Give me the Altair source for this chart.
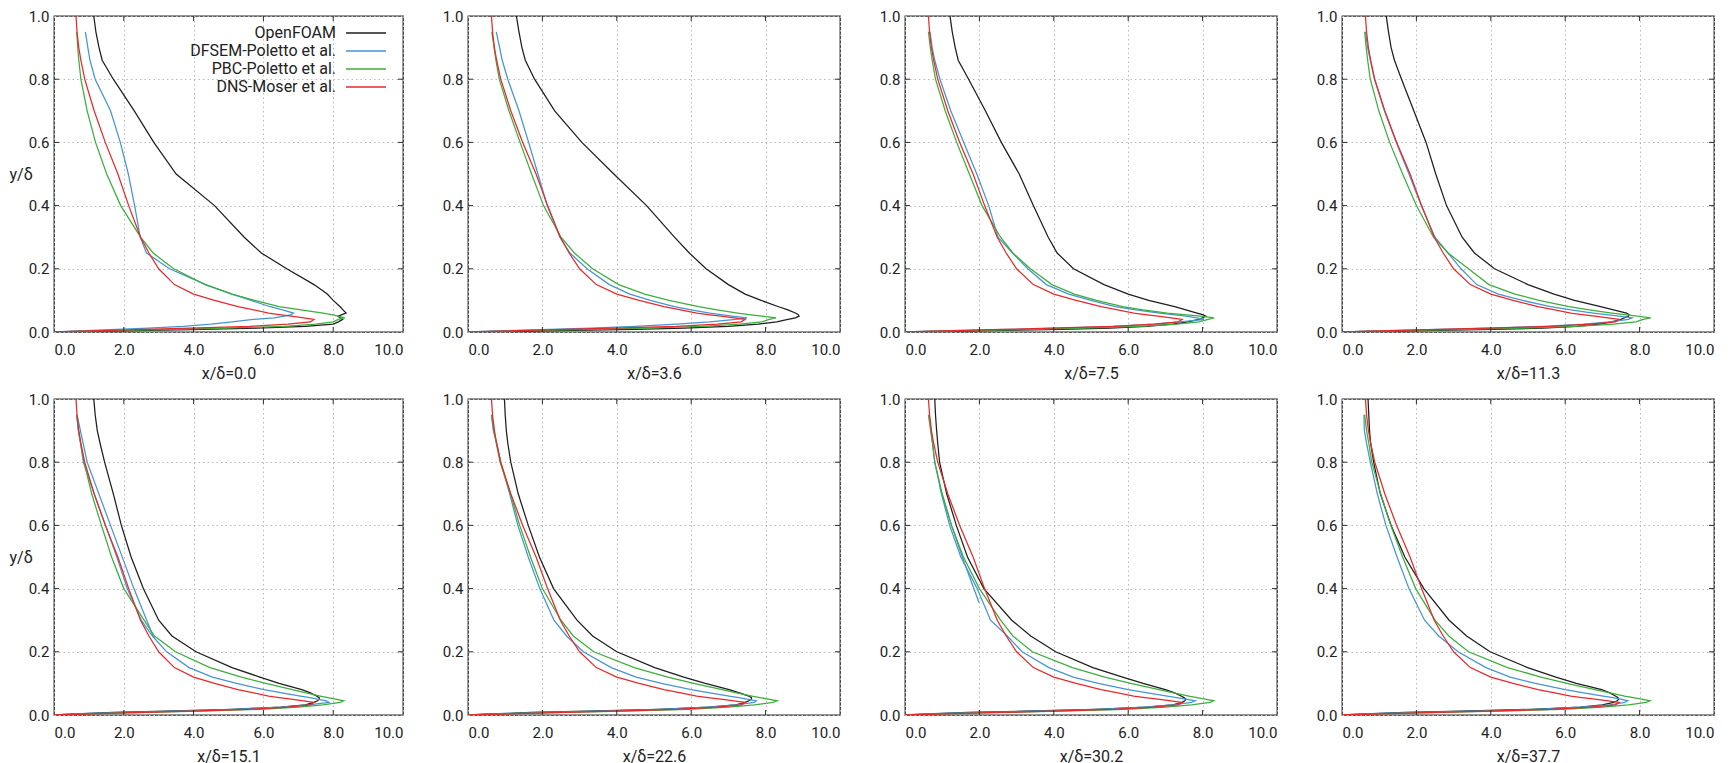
import altair as alt
import pandas as pd

# ---------------- data ----------------
STATIONS = ["0.0", "3.6", "7.5", "11.3", "15.1", "22.6", "30.2", "37.7"]
SERIES = ["OpenFOAM", "DFSEM-Poletto et al.", "PBC-Poletto et al.", "DNS-Moser et al."]
COLORS = ["#1e1e1e", "#4794d3", "#3cae3c", "#e8292b"]

X_TICKS = [0, 2, 4, 6, 8, 10]
Y_TICKS = [0.0, 0.2, 0.4, 0.6, 0.8, 1.0]

# wall-normal positions y/delta (OpenFOAM and DNS go to 1.0, Poletto data stop at 0.95)
Y_GRID = [0.0, 0.004, 0.008, 0.012, 0.018, 0.025, 0.032, 0.04, 0.045, 0.05, 0.055,
          0.06, 0.07, 0.08, 0.1, 0.12, 0.15, 0.2, 0.25, 0.3, 0.4, 0.5, 0.6, 0.7,
          0.8, 0.86, 0.9, 0.95, 1.0]
Y_POL = Y_GRID[:-1]

OPENFOAM = {
    "0.0": [0, 2.3, 4.3, 5.8, 7.2, 8.0, 8.15, 8.27, 8.2, 8.14, 8.25, 8.37, 8.28, 8.2, 8.0, 7.83, 7.45, 6.67, 5.94, 5.45, 4.6, 3.5, 2.86, 2.3, 1.7, 1.38, 1.29, 1.2, 1.14],
    "3.6": [0, 2.4, 4.5, 5.8, 7.0, 7.8, 8.3, 8.6, 8.8, 8.9, 8.88, 8.8, 8.6, 8.35, 7.88, 7.45, 7.0, 6.4, 5.95, 5.55, 4.8, 3.92, 3.06, 2.33, 1.79, 1.54, 1.45, 1.37, 1.30],
    "7.5": [0, 2.2, 4.2, 5.5, 6.5, 7.2, 7.6, 7.9, 8.0, 8.09, 8.0, 7.85, 7.55, 7.25, 6.55, 6.0, 5.35, 4.53, 4.09, 3.85, 3.45, 3.07, 2.59, 2.16, 1.71, 1.43, 1.35, 1.27, 1.21],
    "11.3": [0, 2.1, 4.1, 5.4, 6.3, 6.9, 7.25, 7.5, 7.6, 7.7, 7.72, 7.65, 7.3, 6.95, 6.25, 5.7, 5.0, 4.1, 3.56, 3.23, 2.81, 2.52, 2.26, 1.93, 1.6, 1.41, 1.32, 1.25, 1.19],
    "15.1": [0, 0.8, 1.7, 3.2, 5.1, 6.5, 7.2, 7.45, 7.55, 7.6, 7.6, 7.52, 7.35, 7.1, 6.45, 5.9, 5.1, 4.07, 3.38, 3.0, 2.56, 2.21, 1.93, 1.7, 1.45, 1.32, 1.24, 1.18, 1.14],
    "22.6": [0, 0.8, 1.7, 3.2, 5.1, 6.5, 7.2, 7.45, 7.55, 7.62, 7.62, 7.55, 7.3, 7.02, 6.38, 5.8, 5.02, 4.0, 3.35, 2.93, 2.3, 1.92, 1.62, 1.35, 1.15, 1.07, 1.03, 1.0, 0.98],
    "30.2": [0, 0.8, 1.7, 3.2, 5.1, 6.5, 7.2, 7.45, 7.52, 7.55, 7.5, 7.42, 7.25, 7.0, 6.4, 5.85, 5.05, 4.05, 3.38, 2.87, 2.12, 1.68, 1.38, 1.12, 0.93, 0.88, 0.85, 0.82, 0.80],
    "37.7": [0, 0.8, 1.7, 3.2, 5.1, 6.4, 7.0, 7.3, 7.4, 7.44, 7.42, 7.35, 7.2, 6.98, 6.3, 5.75, 4.99, 3.98, 3.35, 2.88, 2.2, 1.69, 1.32, 1.03, 0.85, 0.77, 0.74, 0.72, 0.70],
}

DFSEM = {
    "0.0": [0, 0.9, 1.8, 2.7, 3.7, 4.5, 5.1, 5.71, 6.3, 6.6, 6.8, 6.86, 6.55, 6.2, 5.65, 5.1, 4.35, 3.31, 2.65, 2.47, 2.31, 2.13, 1.9, 1.62, 1.18, 1.03, 0.97, 0.9],
    "3.6": [0, 1.0, 2.2, 3.3, 4.5, 5.6, 6.5, 7.2, 7.5, 7.1, 6.8, 6.5, 6.0, 5.55, 4.9, 4.35, 3.8, 3.2, 2.74, 2.47, 2.13, 1.88, 1.63, 1.37, 1.07, 0.92, 0.85, 0.76],
    "7.5": [0, 1.3, 2.8, 4.2, 5.6, 6.7, 7.4, 8.04, 7.85, 7.55, 7.2, 6.85, 6.2, 5.65, 5.0, 4.4, 3.8, 3.3, 2.89, 2.5, 2.25, 1.93, 1.58, 1.23, 0.94, 0.8, 0.73, 0.67],
    "11.3": [0, 1.2, 2.6, 4.0, 5.4, 6.5, 7.2, 7.7, 7.8, 7.45, 7.1, 6.75, 6.15, 5.6, 4.85, 4.2, 3.62, 3.2, 2.85, 2.5, 2.13, 1.8, 1.46, 1.14, 0.87, 0.76, 0.69, 0.63],
    "15.1": [0, 0.9, 2.0, 3.5, 5.2, 6.5, 7.3, 7.88, 7.8, 7.55, 7.33, 7.06, 6.53, 6.02, 5.23, 4.54, 3.87, 3.23, 2.82, 2.5, 2.1, 1.8, 1.48, 1.15, 0.84, 0.76, 0.7, 0.65],
    "22.6": [0, 0.9, 2.0, 3.5, 5.2, 6.4, 7.2, 7.7, 7.75, 7.5, 7.28, 7.02, 6.5, 6.0, 5.2, 4.52, 3.85, 3.1, 2.65, 2.31, 1.93, 1.62, 1.34, 1.12, 0.88, 0.77, 0.68, 0.63],
    "30.2": [0, 0.9, 2.0, 3.5, 5.2, 6.4, 7.2, 7.7, 7.8, 7.55, 7.3, 7.05, 6.52, 6.0, 5.2, 4.52, 3.87, 3.15, 2.75, 2.3, 1.94, 1.5, 1.2, 0.98, 0.8, 0.74, 0.7, 0.65],
    "37.7": [0, 0.9, 2.0, 3.5, 5.2, 6.4, 7.2, 7.6, 7.68, 7.5, 7.28, 7.02, 6.5, 6.0, 5.2, 4.52, 3.87, 3.12, 2.6, 2.22, 1.8, 1.48, 1.18, 0.95, 0.76, 0.66, 0.6, 0.59],
}
# short extra DFSEM strokes visible at x/delta = 15.1 and 30.2
DFSEM_EXTRA_X = {"15.1": [0.67, 0.95, 1.62, 2.29, 2.86], "30.2": [0.94, 1.25, 1.6, 1.99]}
DFSEM_EXTRA_Y = {"15.1": [0.945, 0.8, 0.6, 0.4, 0.244], "30.2": [0.72, 0.6, 0.48, 0.356]}

PBC = {
    "0.0": [0, 1.7, 3.4, 4.9, 6.6, 7.5, 8.0, 8.15, 8.33, 8.15, 7.95, 7.71, 7.08, 6.45, 5.75, 5.1, 4.33, 3.43, 2.84, 2.48, 1.91, 1.51, 1.19, 0.95, 0.77, 0.71, 0.68, 0.65],
    "3.6": [0, 1.6, 3.3, 4.8, 6.3, 7.3, 7.9, 8.1, 8.28, 7.9, 7.55, 7.25, 6.7, 6.2, 5.4, 4.75, 4.05, 3.35, 2.86, 2.5, 2.03, 1.71, 1.4, 1.1, 0.84, 0.75, 0.7, 0.64],
    "7.5": [0, 1.6, 3.3, 4.8, 6.3, 7.3, 7.9, 8.15, 8.31, 7.95, 7.5, 7.05, 6.4, 5.85, 5.15, 4.55, 3.95, 3.37, 2.9, 2.57, 2.07, 1.73, 1.39, 1.08, 0.82, 0.73, 0.68, 0.63],
    "11.3": [0, 1.6, 3.3, 4.8, 6.3, 7.3, 7.9, 8.1, 8.3, 7.95, 7.6, 7.25, 6.65, 6.1, 5.3, 4.65, 3.95, 3.4, 2.85, 2.46, 2.0, 1.63, 1.28, 0.99, 0.76, 0.69, 0.65, 0.61],
    "15.1": [0, 1.2, 2.6, 4.2, 5.9, 7.0, 7.7, 8.2, 8.3, 8.07, 7.85, 7.63, 7.22, 6.83, 6.07, 5.37, 4.47, 3.48, 2.88, 2.58, 2.0, 1.65, 1.36, 1.08, 0.86, 0.76, 0.7, 0.65],
    "22.6": [0, 1.2, 2.6, 4.2, 5.9, 7.0, 7.7, 8.2, 8.31, 8.07, 7.85, 7.63, 7.22, 6.83, 6.07, 5.37, 4.47, 3.38, 2.83, 2.5, 2.0, 1.68, 1.39, 1.14, 0.86, 0.76, 0.7, 0.63],
    "30.2": [0, 1.2, 2.6, 4.2, 5.9, 7.0, 7.7, 8.2, 8.3, 8.07, 7.85, 7.63, 7.22, 6.83, 6.07, 5.37, 4.5, 3.42, 2.9, 2.57, 2.0, 1.57, 1.25, 1.0, 0.8, 0.74, 0.69, 0.63],
    "37.7": [0, 1.2, 2.6, 4.2, 5.9, 7.0, 7.7, 8.18, 8.28, 8.05, 7.83, 7.6, 7.2, 6.8, 6.05, 5.35, 4.45, 3.4, 2.87, 2.5, 1.98, 1.63, 1.31, 1.04, 0.8, 0.72, 0.66, 0.61],
}

# channel-flow DNS reference, identical at every station
DNS = [0, 1.3, 2.6, 3.9, 5.6, 6.7, 7.35, 7.45, 7.15, 6.8, 6.45, 6.15, 5.72, 5.27, 4.6, 4.0, 3.45, 3.0, 2.72, 2.48, 2.14, 1.83, 1.47, 1.15, 0.88, 0.77, 0.71, 0.66, 0.63]

# ---------------- layout / style ----------------
FONT = "Roboto"
W_FIRST, W_OTHER, H = 349, 372, 316
HGAP, VGAP = 65, 67
TICK_PX = 5
LINE_W = 1.25
# key (legend) placement inside the first panel, in pixels from its top-left corner
KEY_TEXT_RIGHT = 282
KEY_LINE = (292, 332)
KEY_ROW0, KEY_ROW_STEP = 17, 18

rows = []


def add(station, series, part, xs, ys):
    for i, (xv, yv) in enumerate(zip(xs, ys)):
        rows.append(dict(station=station, series=series, part=f"{series}|{part}",
                         order=i, x=xv, y=yv))


for st in STATIONS:
    add(st, SERIES[0], "a", OPENFOAM[st], Y_GRID)
    add(st, SERIES[1], "a", DFSEM[st], Y_POL)
    if st in DFSEM_EXTRA_X:
        add(st, SERIES[1], "b", DFSEM_EXTRA_X[st], DFSEM_EXTRA_Y[st])
    add(st, SERIES[2], "a", PBC[st], Y_POL)
    add(st, SERIES[3], "a", DNS, Y_GRID)

df = pd.DataFrame(rows)


def tick_frame(w):
    dx = TICK_PX / w * (X_TICKS[-1] - X_TICKS[0])
    dy = TICK_PX / H
    recs = []
    for xv in X_TICKS[1:-1]:
        recs.append(dict(x=xv, x2=xv, y=0.0, y2=dy))
        recs.append(dict(x=xv, x2=xv, y=1.0, y2=1.0 - dy))
    for yv in Y_TICKS[1:-1]:
        recs.append(dict(x=0.0, x2=dx, y=yv, y2=yv))
        recs.append(dict(x=10.0, x2=10.0 - dx, y=yv, y2=yv))
    return pd.DataFrame(recs)


xsc = alt.Scale(domain=[0, 10], nice=False, zero=False)
ysc = alt.Scale(domain=[0, 1], nice=False, zero=False)
csc = alt.Scale(domain=SERIES, range=COLORS)


def key_layers():
    layers = []
    for i, (name, col) in enumerate(zip(SERIES, COLORS)):
        yy = KEY_ROW0 + i * KEY_ROW_STEP
        src = pd.DataFrame({"label": [name]})
        layers.append(
            alt.Chart(src).mark_text(align="right", baseline="middle", font=FONT,
                                     fontSize=16, color="#222222")
            .encode(text="label:N", x=alt.value(KEY_TEXT_RIGHT), y=alt.value(yy))
        )
        layers.append(
            alt.Chart(src).mark_rule(color=col, strokeWidth=1.3)
            .encode(x=alt.value(KEY_LINE[0]), x2=alt.value(KEY_LINE[1]), y=alt.value(yy))
        )
    return layers


def panel(k):
    st = STATIONS[k]
    first = (k % 4 == 0)
    w = W_FIRST if first else W_OTHER
    xax = alt.Axis(values=X_TICKS, format=".1f", title=f"x/δ={st}", grid=True)
    if first:
        yax = alt.Axis(values=Y_TICKS, format=".1f", grid=True, title="y/δ",
                       titleAngle=0, titleAlign="left", titleBaseline="middle",
                       titleX=-45, titleY=H / 2)
    else:
        yax = alt.Axis(values=Y_TICKS, format=".1f", grid=True, title=None)
    lines = alt.Chart(df[df.station == st]).mark_line(strokeWidth=LINE_W, clip=True).encode(
        x=alt.X("x:Q", scale=xsc, axis=xax),
        y=alt.Y("y:Q", scale=ysc, axis=yax),
        color=alt.Color("series:N", scale=csc, legend=None, sort=SERIES),
        detail="part:N",
        order="order:Q",
    )
    ticks = alt.Chart(tick_frame(w)).mark_rule(color="#2b2b2b", strokeWidth=1).encode(
        x=alt.X("x:Q", scale=xsc, axis=xax),
        x2="x2:Q",
        y=alt.Y("y:Q", scale=ysc, axis=yax),
        y2="y2:Q",
    )
    layers = [lines, ticks]
    if k == 0:
        layers += key_layers()
    return alt.layer(*layers).properties(width=w, height=H)


chart = (
    alt.concat(*[panel(k) for k in range(8)], columns=4, align="each", bounds="flush",
               spacing={"row": VGAP, "column": HGAP})
    .properties(padding=0, background="white")
    .configure_view(stroke="#2b2b2b", strokeWidth=1.3)
    .configure_axis(labelFont=FONT, titleFont=FONT, labelFontSize=15, titleFontSize=16,
                    labelColor="#222222", titleColor="#222222", titleFontWeight="normal",
                    domain=False, ticks=False, tickSize=0,
                    gridColor="#b8b8b8", gridDash=[1.5, 3], gridWidth=1)
    .configure_axisX(labelPadding=10, titlePadding=8)
    .configure_axisY(labelPadding=5)
)

chart.save("out.html", embed_options={"renderer": "svg", "actions": False})
